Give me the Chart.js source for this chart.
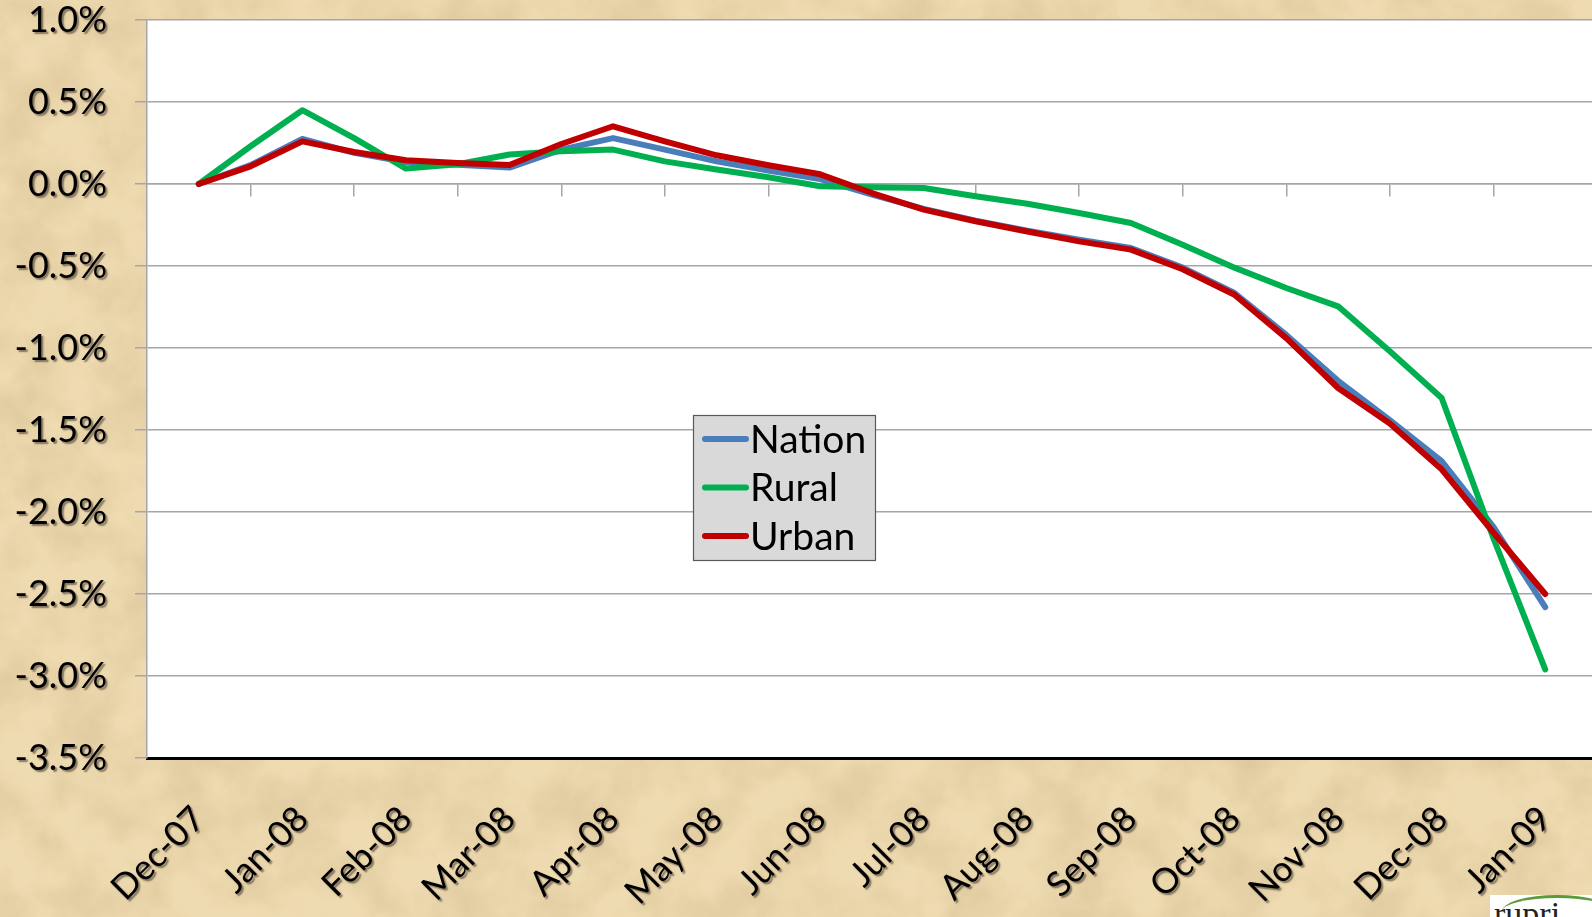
<!DOCTYPE html>
<html>
<head>
<meta charset="utf-8">
<script src="https://cdn.jsdelivr.net/npm/chart.js@4.4.1/dist/chart.umd.min.js"></script>
<style>
  html, body { margin: 0; padding: 0; width: 1592px; height: 917px; overflow: hidden; }
  body {
    background-color: #efdbb1;
    background-image: url("data:image/svg+xml;utf8,<svg xmlns='http://www.w3.org/2000/svg' width='1592' height='917'><filter id='n'><feTurbulence type='fractalNoise' baseFrequency='0.018' numOctaves='4' seed='7'/><feColorMatrix type='matrix' values='0 0 0 0 0.62  0 0 0 0 0.47  0 0 0 0 0.26  0.9 0 0 0 -0.3'/></filter><rect width='100%' height='100%' filter='url(%23n)'/></svg>");
  }
  #wrap { position: absolute; left: 0; top: 0; width: 1600px; height: 917px; }
  #logo {
    position: absolute; left: 1490px; top: 895px; width: 110px; height: 40px;
    background: #ffffff; overflow: hidden;
  }
  #logo span {
    position: absolute; left: 4px; top: 2px; font-family: "Liberation Serif", serif;
    font-size: 34px; color: #222; line-height: 34px;
  }
  #logo i {
    position: absolute; left: 12px; top: 0px; width: 110px; height: 30px;
    border-top: 3px solid #5a9a3a; border-radius: 50% 50% 0 0;
  }
</style>
</head>
<body>
<div id="wrap"><canvas id="c" width="1600" height="917"></canvas></div>
<div id="logo"><i></i><span>rupri</span></div>
<script>
// Month labels (every other data point is a labelled month; data is semi-monthly)
const months = ['Dec-07','Jan-08','Feb-08','Mar-08','Apr-08','May-08','Jun-08',
                'Jul-08','Aug-08','Sep-08','Oct-08','Nov-08','Dec-08','Jan-09'];

// Cumulative % change, semi-monthly points (27 points: Dec-07 .. Jan-09)
const nation = [0, 0.115, 0.275, 0.19, 0.134, 0.118, 0.10, 0.21, 0.28, 0.21, 0.138, 0.082, 0.03,
                -0.065, -0.152, -0.223, -0.284, -0.34, -0.39, -0.51, -0.665, -0.92, -1.20, -1.44,
                -1.69, -2.09, -2.58];
const rural  = [0, 0.23, 0.45, 0.28, 0.094, 0.12, 0.18, 0.20, 0.21, 0.138, 0.088, 0.041, -0.014,
                -0.02, -0.024, -0.075, -0.12, -0.177, -0.238, -0.37, -0.51, -0.634, -0.746, -1.02,
                -1.305, -2.16, -2.96];
const urban  = [0, 0.108, 0.26, 0.195, 0.145, 0.128, 0.116, 0.244, 0.352, 0.26, 0.175, 0.114, 0.059,
                -0.055, -0.156, -0.227, -0.29, -0.35, -0.40, -0.52, -0.675, -0.94, -1.244, -1.46,
                -1.74, -2.125, -2.50];

// Y tick values
const yTicks = [1.0, 0.5, 0.0, -0.5, -1.0, -1.5, -2.0, -2.5, -3.0, -3.5];

const toPts = arr => arr.map((v, i) => ({ x: i, y: v }));
const GRID = '#a6a6a6';

const plotBg = {
  id: 'plotBg',
  beforeDraw(chart) {
    const { ctx, chartArea: a } = chart;
    ctx.save();
    ctx.fillStyle = '#ffffff';
    ctx.fillRect(a.left, a.top, a.right - a.left, a.bottom - a.top);
    ctx.restore();
  }
};

// text shadow for the axis labels (drawn in a layer after the datasets)
const labelShadow = {
  id: 'labelShadow',
  afterDatasetsDraw(chart) {
    const ctx = chart.ctx;
    ctx.shadowColor = 'rgba(60,50,40,0.6)';
    ctx.shadowOffsetX = 2;
    ctx.shadowOffsetY = 2;
    ctx.shadowBlur = 1.5;
  }
};

const boxLegend = {
  id: 'boxLegend',
  afterDraw(chart) {
    const { ctx, chartArea: a } = chart;
    ctx.shadowColor = 'rgba(0,0,0,0)';
    ctx.shadowOffsetX = 0;
    ctx.shadowOffsetY = 0;
    ctx.shadowBlur = 0;
    const x0 = a.left + 546, y0 = a.top + 395, w = 182, h = 145;
    ctx.save();
    ctx.fillStyle = '#d9d9d9';
    ctx.fillRect(x0, y0, w, h);
    ctx.strokeStyle = '#595959';
    ctx.lineWidth = 1.2;
    ctx.strokeRect(x0 + 0.5, y0 + 0.5, w, h);
    chart.data.datasets.forEach((ds, i) => {
      const cy = y0 + 24 + i * 48.5;
      ctx.strokeStyle = ds.borderColor;
      ctx.lineWidth = 6;
      ctx.lineCap = 'round';
      ctx.beginPath();
      ctx.moveTo(x0 + 12, cy);
      ctx.lineTo(x0 + 53, cy);
      ctx.stroke();
      ctx.fillStyle = '#000';
      ctx.font = '39px Lato';
      ctx.textBaseline = 'middle';
      ctx.textAlign = 'left';
      ctx.fillText(ds.label, x0 + 57, cy + 1);
    });
    ctx.restore();
  }
};

new Chart(document.getElementById('c'), {
  type: 'line',
  data: {
    datasets: [
      { label: 'Nation', data: toPts(nation), borderColor: '#4a7ebb', order: 2 },
      { label: 'Rural',  data: toPts(rural),  borderColor: '#00b050', order: 1 },
      { label: 'Urban',  data: toPts(urban),  borderColor: '#c00000', order: 0 }
    ]
  },
  options: {
    responsive: false,
    animation: false,
    layout: { padding: { top: 20, right: 3, left: 0, bottom: 0 } },
    elements: {
      line: { borderWidth: 6, tension: 0, borderJoinStyle: 'round', borderCapStyle: 'round' },
      point: { radius: 0, hoverRadius: 0 }
    },
    plugins: { legend: { display: false }, tooltip: { enabled: false } },
    scales: {
      x: {
        type: 'linear', position: 'bottom', min: -1, max: 27,
        afterBuildTicks(s) { s.ticks = months.map((m, i) => ({ value: 2 * i })); },
        afterFit(s) { s.height = 159; s.paddingLeft = 0; s.paddingRight = 0; },
        ticks: {
          autoSkip: false, minRotation: 45, maxRotation: 45, padding: 40, z: 1,
          color: '#000', font: { family: 'Lato', size: 35 },
          callback: v => months[v / 2]
        },
        grid: { display: false, drawTicks: false, z: -1 },
        border: { display: true, color: '#000', width: 3 }
      },
      xz: {
        type: 'linear', position: { y: 0 }, min: -1, max: 27,
        afterBuildTicks(s) { s.ticks = months.slice(1).map((m, i) => ({ value: 2 * i + 1 })); },
        afterFit(s) { s.paddingLeft = 0; s.paddingRight = 0; },
        ticks: { display: false },
        grid: { drawOnChartArea: false, drawTicks: true, tickLength: 12, color: GRID, lineWidth: 1.5, z: -1 },
        border: { display: true, color: GRID, width: 1.5 }
      },
      y: {
        type: 'linear', position: 'left', min: -3.5, max: 1.0,
        afterBuildTicks(s) { s.ticks = yTicks.map(v => ({ value: v })); },
        afterFit(s) { s.width = 147; s.paddingTop = 0; s.paddingBottom = 0; },
        ticks: {
          padding: 28, color: '#000', font: { family: 'Lato', size: 36 }, z: 1,
          callback: v => v.toFixed(1) + '%'
        },
        grid: { color: GRID, lineWidth: 1.5, tickLength: 12, drawTicks: true, z: -1 },
        border: { display: true, color: GRID, width: 1.5 }
      }
    }
  },
  plugins: [plotBg, labelShadow, boxLegend]
});
</script>
</body>
</html>
